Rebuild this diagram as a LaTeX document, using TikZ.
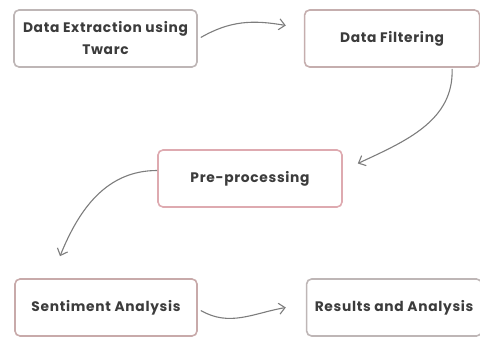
\documentclass[tikz,border=0pt]{standalone}
\usepackage{fontspec}
\setmainfont{Poppins}[LetterSpace=5]
\usepackage{xcolor}
\usepackage{tikz}
\usetikzlibrary{positioning,arrows.meta}
\definecolor{boxgray}{RGB}{190,182,182}
\definecolor{boxpink}{RGB}{222,170,176}
\definecolor{boxrose}{RGB}{200,170,170}
\definecolor{flowgray}{RGB}{125,125,125}
\definecolor{txtgray}{RGB}{60,60,60}

\begin{document}
\begin{tikzpicture}[x=1pt, y=-1pt, node distance=106pt,
  every node/.style={font=\bfseries\fontsize{13.8}{22}\selectfont, text=txtgray},
  stepbox/.style={draw=boxgray, fill=white, line width=1.6pt, rounded corners=5pt,
    minimum height=57pt, align=center, inner sep=1pt},
  flow/.style={draw=flowgray, line width=1.1pt, -{Straight Barb[length=6pt,width=11pt]}}]
  \useasboundingbox (0,0) rectangle (480,337);
  \node[stepbox, minimum width=183pt] (ext) at (105.5,38.5) {Data Extraction using\\Twarc};
  \node[stepbox, minimum width=175pt, draw=boxrose!70!boxgray, right=of ext] (filt) {Data Filtering};
  \node[stepbox, minimum width=184pt, draw=boxpink] (pre) at (250,178.5) {Pre-processing};
  \node[stepbox, minimum width=182pt, draw=boxrose] (sent) at (106,307.5) {Sentiment Analysis};
  \node[stepbox, minimum width=175pt, right=108pt of sent] (res) {Results and Analysis};
  \draw[flow] ([xshift=3pt,yshift=1pt]ext.east) to[out=30, in=170] ([xshift=-18pt,yshift=13pt]filt.west);
  \draw[flow] ([xshift=60pt,yshift=-1pt]filt.south) to[out=-88, in=25] ([xshift=15pt,yshift=15pt]pre.east);
  \draw[flow] ([yshift=8pt]pre.west) to[out=180, in=68] ([xshift=-46pt,yshift=22pt]sent.north);
  \draw[flow] ([xshift=3pt,yshift=-3pt]sent.east) to[out=-30, in=190] ([xshift=-20pt]res.west);
\end{tikzpicture}
\end{document}
